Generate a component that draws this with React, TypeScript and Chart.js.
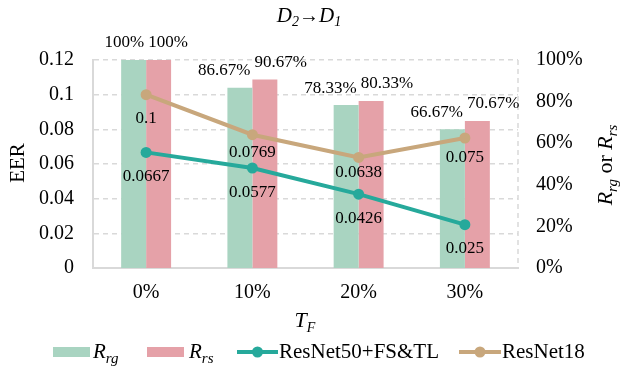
import { useEffect, useRef } from 'react';
import { Chart, registerables } from 'chart.js';

Chart.register(...registerables);

const categories = ['0%', '10%', '20%', '30%'];
const rrgValues = [100, 86.67, 78.33, 66.67];
const rrsValues = [100, 90.67, 80.33, 70.67];
const resnet50Values = [0.0667, 0.0577, 0.0426, 0.025];
const resnet18Values = [0.1, 0.0769, 0.0638, 0.075];
const eerTicks = [0, 0.02, 0.04, 0.06, 0.08, 0.1, 0.12];
const eerTickLabels = ['0', '0.02', '0.04', '0.06', '0.08', '0.1', '0.12'];
const rateTicks = [0, 20, 40, 60, 80, 100];
const rateTickLabels = ['0%', '20%', '40%', '60%', '80%', '100%'];

// label offsets below the ResNet18 points (layout only)
const resnet18LabelGap = [24, 18, 15, 20];
const resnet50LabelGap = [24, 25, 24, 24];

const GREEN = '#a9d4c1';
const PINK = '#e5a1a8';
const TEAL = '#26a99b';
const TAN = '#c8a77c';
const GRID = '#d9d9d9';
const SERIF = '"Liberation Serif", "Times New Roman", serif';

type Part = { t: string; size: number; italic?: boolean; dy?: number };

function drawRich(ctx: CanvasRenderingContext2D, parts: Part[], x: number, y: number, align: 'left' | 'center' | 'right') {
  ctx.save();
  ctx.fillStyle = '#000';
  ctx.textAlign = 'left';
  ctx.textBaseline = 'alphabetic';
  const fonts = parts.map((p) => `${p.italic ? 'italic ' : ''}${p.size}px ${SERIF}`);
  let total = 0;
  const widths = parts.map((p, i) => {
    ctx.font = fonts[i];
    const w = ctx.measureText(p.t).width;
    total += w;
    return w;
  });
  let cx = align === 'left' ? x : align === 'center' ? x - total / 2 : x - total;
  parts.forEach((p, i) => {
    ctx.font = fonts[i];
    ctx.fillText(p.t, cx, y + (p.dy || 0));
    cx += widths[i];
  });
  ctx.restore();
}

const decorPlugin = {
  id: 'decor',
  beforeDatasetsDraw(chart: any) {
    const { ctx, chartArea } = chart;
    ctx.save();
    ctx.strokeStyle = GRID;
    ctx.lineWidth = 1.5;
    ctx.setLineDash([5, 4]);
    ctx.beginPath();
    ctx.moveTo(chartArea.right, chartArea.top);
    ctx.lineTo(chartArea.right, chartArea.bottom);
    ctx.stroke();
    ctx.restore();
  },
  afterDatasetsDraw(chart: any) {
    const { ctx } = chart;
    const xs = chart.scales.x;
    const greenMeta = chart.getDatasetMeta(0);
    const pinkMeta = chart.getDatasetMeta(1);
    const tealMeta = chart.getDatasetMeta(2);
    const tanMeta = chart.getDatasetMeta(3);
    ctx.save();
    ctx.fillStyle = '#000';
    ctx.font = `17px ${SERIF}`;
    ctx.textBaseline = 'middle';
    categories.forEach((_, j) => {
      const cx = xs.getPixelForValue(j);
      const g = greenMeta.data[j];
      const p = pinkMeta.data[j];
      ctx.textAlign = 'right';
      ctx.fillText(`${rrgValues[j]}%`, cx - 2, g.y - 17);
      ctx.textAlign = 'left';
      ctx.fillText(`${rrsValues[j]}%`, cx + 2, p.y - 17);
      ctx.textAlign = 'center';
      const t = tealMeta.data[j];
      ctx.fillText(String(resnet50Values[j]), t.x, t.y + resnet50LabelGap[j]);
      const n = tanMeta.data[j];
      ctx.fillText(String(resnet18Values[j]), n.x, n.y + resnet18LabelGap[j]);
    });
    ctx.restore();
  },
  afterDraw(chart: any) {
    const { ctx } = chart;
    // title
    drawRich(ctx, [
      { t: 'D', size: 21, italic: true },
      { t: '2', size: 14, italic: true, dy: 4 },
      { t: '\u2192', size: 20 },
      { t: 'D', size: 21, italic: true },
      { t: '1', size: 14, italic: true, dy: 4 },
    ], 309, 22, 'center');

    // left axis title
    ctx.save();
    ctx.translate(17, 163);
    ctx.rotate(-Math.PI / 2);
    drawRich(ctx, [{ t: 'EER', size: 21 }], 0, 7, 'center');
    ctx.restore();

    // right axis title
    ctx.save();
    ctx.translate(605, 165);
    ctx.rotate(-Math.PI / 2);
    drawRich(ctx, [
      { t: 'R', size: 22, italic: true },
      { t: 'rg', size: 15, italic: true, dy: 5 },
      { t: ' or ', size: 22 },
      { t: 'R', size: 22, italic: true },
      { t: 'rs', size: 15, italic: true, dy: 5 },
    ], 0, 7, 'center');
    ctx.restore();

    // x axis title
    drawRich(ctx, [
      { t: 'T', size: 22, italic: true },
      { t: 'F', size: 14, italic: true, dy: 5 },
    ], 305, 327, 'center');

    // legend
    ctx.save();
    ctx.fillStyle = GREEN;
    ctx.fillRect(53, 347, 37, 10);
    ctx.fillStyle = PINK;
    ctx.fillRect(147, 347, 37, 10);
    const lineItem = (x1: number, x2: number, color: string) => {
      ctx.strokeStyle = color;
      ctx.lineWidth = 4;
      ctx.beginPath();
      ctx.moveTo(x1, 352);
      ctx.lineTo(x2, 352);
      ctx.stroke();
      ctx.fillStyle = color;
      ctx.beginPath();
      ctx.arc((x1 + x2) / 2, 352, 5.5, 0, Math.PI * 2);
      ctx.fill();
    };
    lineItem(237, 278, TEAL);
    lineItem(459, 501, TAN);
    ctx.restore();
    drawRich(ctx, [
      { t: 'R', size: 21, italic: true },
      { t: 'rg', size: 15, italic: true, dy: 5 },
    ], 93, 358, 'left');
    drawRich(ctx, [
      { t: 'R', size: 21, italic: true },
      { t: 'rs', size: 15, italic: true, dy: 5 },
    ], 189, 358, 'left');
    drawRich(ctx, [{ t: 'ResNet50+FS&TL', size: 21 }], 279, 358, 'left');
    drawRich(ctx, [{ t: 'ResNet18', size: 21 }], 502, 358, 'left');
  },
};

export default function App() {
  const canvasRef = useRef<HTMLCanvasElement | null>(null);

  useEffect(() => {
    document.body.style.margin = '0';
    const canvas = canvasRef.current;
    if (!canvas) return;
    const tickFont = { family: SERIF, size: 20 };
    const chart = new Chart(canvas, {
      type: 'bar',
      data: {
        labels: categories,
        datasets: [
          {
            type: 'bar',
            label: 'Rrg',
            data: rrgValues,
            yAxisID: 'y1',
            backgroundColor: GREEN,
            borderWidth: 0,
            categoryPercentage: 0.47,
            barPercentage: 1,
            order: 2,
          },
          {
            type: 'bar',
            label: 'Rrs',
            data: rrsValues,
            yAxisID: 'y1',
            backgroundColor: PINK,
            borderWidth: 0,
            categoryPercentage: 0.47,
            barPercentage: 1,
            order: 2,
          },
          {
            type: 'line',
            label: 'ResNet50+FS&TL',
            data: resnet50Values,
            yAxisID: 'y',
            borderColor: TEAL,
            backgroundColor: TEAL,
            borderWidth: 4,
            pointRadius: 5.5,
            pointBackgroundColor: TEAL,
            pointBorderWidth: 0,
            tension: 0,
            order: 0,
          },
          {
            type: 'line',
            label: 'ResNet18',
            data: resnet18Values,
            yAxisID: 'y',
            borderColor: TAN,
            backgroundColor: TAN,
            borderWidth: 4,
            pointRadius: 5.5,
            pointBackgroundColor: TAN,
            pointBorderWidth: 0,
            tension: 0,
            order: 0,
          },
        ] as any,
      },
      options: {
        responsive: false,
        animation: false,
        devicePixelRatio: 1,
        layout: { padding: { top: 60, left: 0, right: 0, bottom: 0 } },
        plugins: {
          legend: { display: false },
          title: { display: false },
          tooltip: { enabled: false },
        },
        scales: {
          x: {
            type: 'category',
            offset: true,
            grid: { display: false, drawTicks: false },
            border: { display: true, color: GRID, width: 2 },
            ticks: { color: '#000', font: tickFont, padding: 13 },
            afterFit: (s: any) => {
              s.height = 98;
            },
          },
          y: {
            position: 'left',
            min: 0,
            max: 0.12,
            afterBuildTicks: (s: any) => {
              s.ticks = eerTicks.map((v) => ({ value: v }));
            },
            ticks: {
              color: '#000',
              font: tickFont,
              padding: 19,
              callback: (_v: any, i: number) => eerTickLabels[i],
            },
            grid: { color: GRID, lineWidth: 1.5, drawTicks: false },
            border: { display: true, color: GRID, width: 2, dash: [5, 4] },
            afterFit: (s: any) => {
              s.width = 93;
            },
          },
          y1: {
            position: 'right',
            min: 0,
            max: 100,
            afterBuildTicks: (s: any) => {
              s.ticks = rateTicks.map((v) => ({ value: v }));
            },
            ticks: {
              color: '#000',
              font: tickFont,
              padding: 18,
              callback: (_v: any, i: number) => rateTickLabels[i],
            },
            grid: { display: false, drawTicks: false },
            border: { display: false },
            afterFit: (s: any) => {
              s.width = 105;
            },
          },
        } as any,
      },
      plugins: [decorPlugin],
    });
    return () => chart.destroy();
  }, []);

  return (
    <div style={{ width: 623, height: 366 }}>
      <canvas ref={canvasRef} width={623} height={366} style={{ display: 'block' }} />
    </div>
  );
}
